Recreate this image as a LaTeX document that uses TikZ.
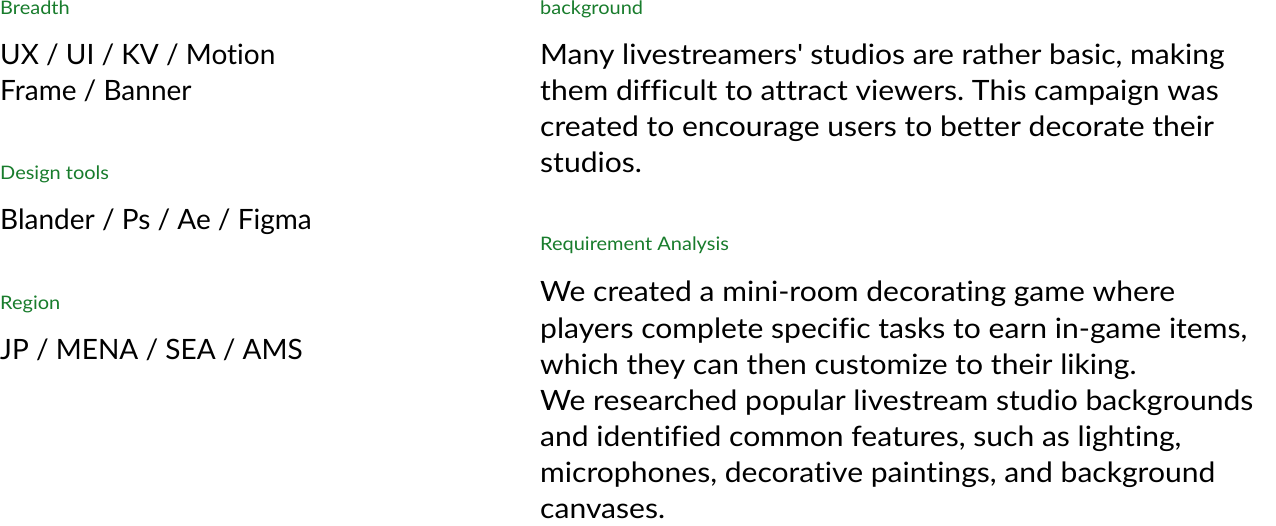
\documentclass[tikz,border=0pt]{standalone}
\usepackage{fontspec}
\setmainfont{Lato}[FakeStretch=1.074, Ligatures={NoCommon,NoRequired,NoContextual}]
\newfontfamily\narrowlato{Lato}[Ligatures={NoCommon,NoRequired,NoContextual}]
\definecolor{labelgreen}{RGB}{24,124,44}
\frenchspacing
\tikzset{
  label text/.style={anchor=base west, inner sep=0pt, color=labelgreen, font=\fontsize{18.6}{22}\selectfont},
  body text/.style={anchor=base west, inner sep=0pt, color=black, font=\fontsize{28}{36}\selectfont},
  short text/.style={body text, font=\narrowlato\fontsize{28}{36}\selectfont}
}
\begin{document}
\begin{tikzpicture}[x=1pt,y=-1pt]
\useasboundingbox (0,0) rectangle (1276,526);
% left column
\node[label text] (breadth) at (0,15) {Breadth};
\foreach \txt [count=\i] in {{UX / UI / KV / Motion},{Frame / Banner}}
  \node[short text] (breadth-\i) at (0,29+36*\i) {\txt};
\node[label text] (tools) at (0,180) {Design tools};
\node[short text] (tools-1) at (0,230) {Blander / Ps / Ae / Figma};
\node[label text] (region) at (0,309) {Region};
\node[short text] (region-1) at (0,359) {JP / MENA / SEA / AMS};
% right column
\node[label text] (background) at (540,15) {background};
\foreach \txt [count=\i] in {{Many livestreamers\textquotesingle{} studios are rather basic, making},
    {them difficult to attract viewers. This campaign was},
    {created to encourage users to better decorate their},
    {studios.}}
  \node[body text] (background-\i) at (540,29+36*\i) {\txt};
\node[label text] (analysis) at (540,251) {Requirement Analysis};
\foreach \txt [count=\i] in {{We created a mini-room decorating game where},
    {players complete specific tasks to earn in-game items,},
    {which they can then customize to their liking.},
    {We researched popular livestream studio backgrounds},
    {and identified common features, such as lighting,},
    {microphones, decorative paintings, and background},
    {canvases.}}
  \node[body text] (analysis-\i) at (540,266+36*\i) {\txt};
\end{tikzpicture}
\end{document}
